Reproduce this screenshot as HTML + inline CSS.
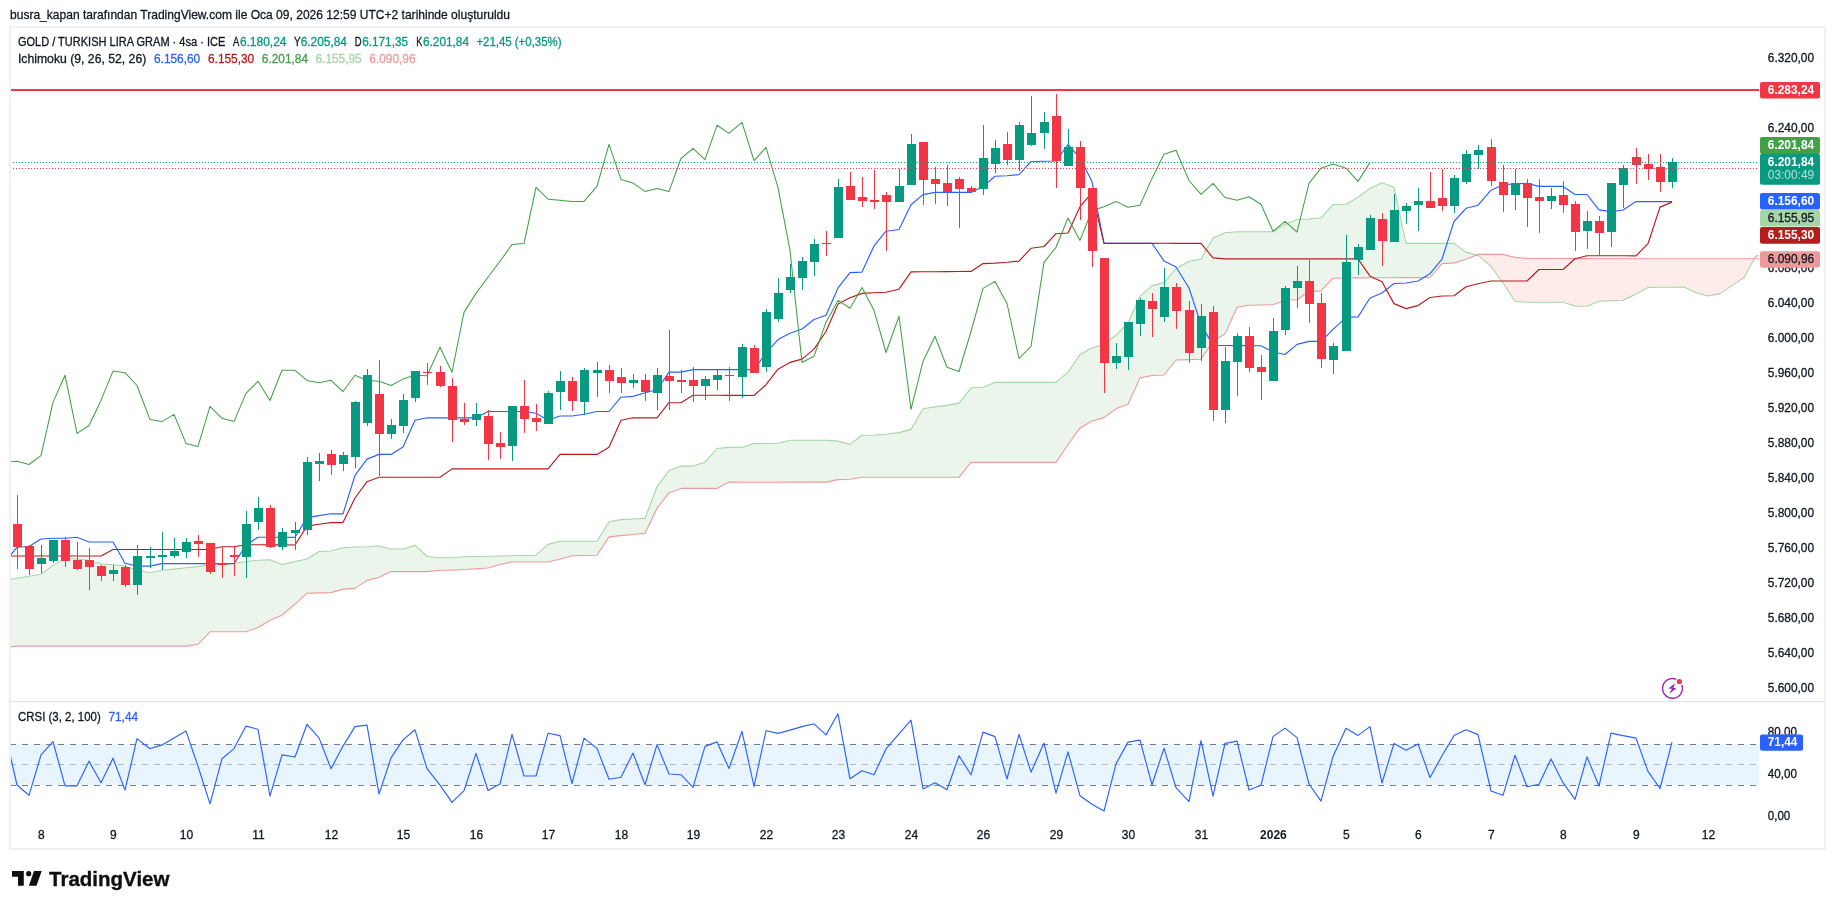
<!DOCTYPE html><html><head><meta charset="utf-8"><title>chart</title><style>html,body{margin:0;padding:0;background:#fff;width:1835px;height:909px;overflow:hidden;font-family:"Liberation Sans",sans-serif}</style></head><body>
<svg width="1835" height="909" viewBox="0 0 1835 909" style="position:absolute;left:0;top:0;will-change:transform" font-family="Liberation Sans, sans-serif">
<defs><clipPath id="c1"><rect x="11" y="28" width="1748" height="673"/></clipPath><clipPath id="c2"><rect x="11" y="702" width="1748" height="123"/></clipPath></defs>
<rect x="0" y="0" width="1835" height="909" fill="#fff"/>
<rect x="10" y="27" width="1815" height="822" fill="none" stroke="#f0f0f2" stroke-width="2"/>
<rect x="10" y="701" width="1815" height="1" fill="#e0e3eb"/>
<g clip-path="url(#c1)" shape-rendering="auto">
<polygon points="5.00,580.30 17.00,578.20 29.00,576.20 41.00,574.20 53.00,565.40 65.00,558.29 77.00,559.04 89.00,560.29 101.00,564.06 113.00,564.81 125.00,566.06 137.00,570.33 150.00,572.83 162.00,570.33 174.00,569.07 186.00,567.82 198.00,566.56 210.00,564.81 222.00,564.81 234.00,563.30 246.00,561.55 258.00,560.29 270.00,559.79 282.00,564.56 295.00,561.55 307.00,559.04 319.00,551.51 331.00,551.01 343.00,547.75 355.00,547.00 367.00,546.75 379.00,546.00 391.00,549.01 403.00,549.01 415.00,545.24 427.00,556.53 440.00,557.79 452.00,557.79 464.00,556.70 476.00,556.45 488.00,556.20 500.00,555.95 512.00,555.70 524.00,555.45 536.00,555.20 548.00,544.41 560.00,541.15 572.00,541.15 584.00,541.15 597.00,541.15 609.00,521.84 621.00,519.58 633.00,518.99 645.00,518.39 657.00,486.66 669.00,470.61 681.00,466.09 693.00,466.09 705.00,462.33 717.00,448.54 729.00,447.41 742.00,447.33 754.00,443.56 766.00,443.46 778.00,443.31 790.00,440.17 802.00,440.17 814.00,440.17 826.00,440.17 838.00,441.05 850.00,444.44 862.00,435.16 874.00,435.03 886.00,434.15 899.00,432.65 911.00,429.39 923.00,408.82 935.00,406.94 947.00,405.44 959.00,403.05 971.00,387.75 983.00,387.25 995.00,382.36 1007.00,382.36 1019.00,382.36 1031.00,382.36 1044.00,382.36 1056.00,382.36 1068.00,372.18 1080.00,354.62 1092.00,347.85 1104.00,344.09 1116.00,335.31 1128.00,322.77 1140.00,296.43 1152.00,285.58 1164.00,282.57 1176.00,268.65 1189.00,261.18 1201.00,259.17 1213.00,237.85 1225.00,232.83 1237.00,231.83 1249.00,231.83 1261.00,231.83 1273.00,231.83 1285.00,224.56 1297.00,219.54 1309.00,219.04 1321.00,217.79 1333.00,204.74 1346.00,204.24 1358.00,197.22 1370.00,188.44 1382.00,182.67 1394.00,187.19 1406.00,243.37 1418.00,243.37 1430.00,243.37 1442.00,243.37 1454.00,243.37 1466.00,252.15 1476.50,255.00 1476.50,255.00 1466.00,259.17 1454.00,262.93 1442.00,263.68 1430.00,277.48 1418.00,277.55 1406.00,277.62 1394.00,277.69 1382.00,277.77 1370.00,277.84 1358.00,277.91 1346.00,277.98 1333.00,278.19 1321.00,290.95 1309.00,291.45 1297.00,299.73 1285.00,300.23 1273.00,304.74 1261.00,304.99 1249.00,305.24 1237.00,307.25 1225.00,334.09 1213.00,341.11 1201.00,359.17 1189.00,359.60 1176.00,360.03 1164.00,374.95 1152.00,375.46 1140.00,377.95 1128.00,404.28 1116.00,408.80 1104.00,417.58 1092.00,420.99 1080.00,427.88 1068.00,444.81 1056.00,462.37 1044.00,462.37 1031.00,462.37 1019.00,462.37 1007.00,462.37 995.00,462.37 983.00,462.37 971.00,462.37 959.00,477.32 947.00,477.32 935.00,477.32 923.00,477.32 911.00,477.32 899.00,477.32 886.00,477.32 874.00,477.32 862.00,477.32 850.00,479.32 838.00,479.57 826.00,482.08 814.00,482.10 802.00,482.12 790.00,482.14 778.00,482.16 766.00,482.17 754.00,482.19 742.00,482.21 729.00,482.15 717.00,488.42 705.00,488.42 693.00,488.42 681.00,488.42 669.00,492.93 657.00,508.23 645.00,533.31 633.00,534.47 621.00,535.64 609.00,536.89 597.00,555.20 584.00,555.45 572.00,555.70 560.00,558.96 548.00,561.97 536.00,561.97 524.00,561.97 512.00,561.97 500.00,564.48 488.00,567.99 476.00,568.77 464.00,569.55 452.00,570.33 440.00,570.33 427.00,571.58 415.00,571.58 403.00,571.58 391.00,571.58 379.00,577.35 367.00,580.36 355.00,588.38 343.00,589.14 331.00,592.65 319.00,592.90 307.00,593.15 295.00,604.19 282.00,614.97 270.00,620.49 258.00,627.51 246.00,631.78 234.00,631.78 222.00,631.78 210.00,631.78 198.00,644.32 186.00,646.07 174.00,646.07 162.00,646.07 150.00,646.07 137.00,646.07 125.00,646.07 113.00,646.07 101.00,646.07 89.00,646.07 77.00,646.07 65.00,646.07 53.00,646.07 41.00,646.07 29.00,646.07 17.00,646.07 5.00,647.58" fill="rgba(67,160,71,0.10)"/>
<polygon points="1476.50,255.00 1478.00,255.41 1491.00,266.19 1503.00,283.00 1515.00,301.31 1527.00,302.31 1539.00,302.31 1551.00,302.31 1563.00,302.31 1575.00,306.07 1587.00,306.32 1599.00,301.31 1611.00,300.75 1623.00,300.20 1636.00,293.85 1648.00,287.50 1660.00,287.33 1672.00,287.17 1684.00,287.00 1696.00,292.80 1708.00,296.00 1720.00,293.60 1732.00,285.55 1744.00,277.50 1754.41,258.67 1754.41,258.67 1744.00,258.67 1732.00,258.67 1720.00,258.67 1708.00,258.67 1696.00,258.67 1684.00,258.67 1672.00,258.67 1660.00,258.67 1648.00,258.67 1636.00,258.67 1623.00,258.67 1611.00,258.67 1599.00,258.67 1587.00,258.63 1575.00,258.58 1563.00,258.54 1551.00,258.50 1539.00,258.46 1527.00,258.42 1515.00,257.41 1503.00,254.40 1491.00,254.40 1478.00,254.40 1476.50,255.00" fill="rgba(244,67,54,0.10)"/>
<polygon points="1754.41,258.67 1756.00,255.80 1768.00,255.80 1768.00,258.67 1756.00,258.67 1754.41,258.67" fill="rgba(67,160,71,0.10)"/>
<polyline points="5.0,580.3 17.0,578.2 29.0,576.2 41.0,574.2 53.0,565.4 65.0,558.3 77.0,559.0 89.0,560.3 101.0,564.1 113.0,564.8 125.0,566.1 137.0,570.3 150.0,572.8 162.0,570.3 174.0,569.1 186.0,567.8 198.0,566.6 210.0,564.8 222.0,564.8 234.0,563.3 246.0,561.5 258.0,560.3 270.0,559.8 282.0,564.6 295.0,561.5 307.0,559.0 319.0,551.5 331.0,551.0 343.0,547.8 355.0,547.0 367.0,546.7 379.0,546.0 391.0,549.0 403.0,549.0 415.0,545.2 427.0,556.5 440.0,557.8 452.0,557.8 464.0,556.7 476.0,556.5 488.0,556.2 500.0,556.0 512.0,555.7 524.0,555.5 536.0,555.2 548.0,544.4 560.0,541.2 572.0,541.2 584.0,541.2 597.0,541.2 609.0,521.8 621.0,519.6 633.0,519.0 645.0,518.4 657.0,486.7 669.0,470.6 681.0,466.1 693.0,466.1 705.0,462.3 717.0,448.5 729.0,447.4 742.0,447.3 754.0,443.6 766.0,443.5 778.0,443.3 790.0,440.2 802.0,440.2 814.0,440.2 826.0,440.2 838.0,441.1 850.0,444.4 862.0,435.2 874.0,435.0 886.0,434.2 899.0,432.6 911.0,429.4 923.0,408.8 935.0,406.9 947.0,405.4 959.0,403.1 971.0,387.8 983.0,387.3 995.0,382.4 1007.0,382.4 1019.0,382.4 1031.0,382.4 1044.0,382.4 1056.0,382.4 1068.0,372.2 1080.0,354.6 1092.0,347.9 1104.0,344.1 1116.0,335.3 1128.0,322.8 1140.0,296.4 1152.0,285.6 1164.0,282.6 1176.0,268.6 1189.0,261.2 1201.0,259.2 1213.0,237.9 1225.0,232.8 1237.0,231.8 1249.0,231.8 1261.0,231.8 1273.0,231.8 1285.0,224.6 1297.0,219.5 1309.0,219.0 1321.0,217.8 1333.0,204.7 1346.0,204.2 1358.0,197.2 1370.0,188.4 1382.0,182.7 1394.0,187.2 1406.0,243.4 1418.0,243.4 1430.0,243.4 1442.0,243.4 1454.0,243.4 1466.0,252.1 1478.0,255.4 1491.0,266.2 1503.0,283.0 1515.0,301.3 1527.0,302.3 1539.0,302.3 1551.0,302.3 1563.0,302.3 1575.0,306.1 1587.0,306.3 1599.0,301.3 1611.0,300.8 1623.0,300.2 1636.0,293.9 1648.0,287.5 1660.0,287.3 1672.0,287.2 1684.0,287.0 1696.0,292.8 1708.0,296.0 1720.0,293.6 1732.0,285.6 1744.0,277.5 1756.0,255.8 1768.0,255.8" fill="none" stroke="#a5d6a7" stroke-width="1.1" stroke-linejoin="round" stroke-opacity="1"/>
<polyline points="5.0,647.6 17.0,646.1 29.0,646.1 41.0,646.1 53.0,646.1 65.0,646.1 77.0,646.1 89.0,646.1 101.0,646.1 113.0,646.1 125.0,646.1 137.0,646.1 150.0,646.1 162.0,646.1 174.0,646.1 186.0,646.1 198.0,644.3 210.0,631.8 222.0,631.8 234.0,631.8 246.0,631.8 258.0,627.5 270.0,620.5 282.0,615.0 295.0,604.2 307.0,593.2 319.0,592.9 331.0,592.6 343.0,589.1 355.0,588.4 367.0,580.4 379.0,577.3 391.0,571.6 403.0,571.6 415.0,571.6 427.0,571.6 440.0,570.3 452.0,570.3 464.0,569.5 476.0,568.8 488.0,568.0 500.0,564.5 512.0,562.0 524.0,562.0 536.0,562.0 548.0,562.0 560.0,559.0 572.0,555.7 584.0,555.5 597.0,555.2 609.0,536.9 621.0,535.6 633.0,534.5 645.0,533.3 657.0,508.2 669.0,492.9 681.0,488.4 693.0,488.4 705.0,488.4 717.0,488.4 729.0,482.1 742.0,482.2 754.0,482.2 766.0,482.2 778.0,482.2 790.0,482.1 802.0,482.1 814.0,482.1 826.0,482.1 838.0,479.6 850.0,479.3 862.0,477.3 874.0,477.3 886.0,477.3 899.0,477.3 911.0,477.3 923.0,477.3 935.0,477.3 947.0,477.3 959.0,477.3 971.0,462.4 983.0,462.4 995.0,462.4 1007.0,462.4 1019.0,462.4 1031.0,462.4 1044.0,462.4 1056.0,462.4 1068.0,444.8 1080.0,427.9 1092.0,421.0 1104.0,417.6 1116.0,408.8 1128.0,404.3 1140.0,377.9 1152.0,375.5 1164.0,375.0 1176.0,360.0 1189.0,359.6 1201.0,359.2 1213.0,341.1 1225.0,334.1 1237.0,307.3 1249.0,305.2 1261.0,305.0 1273.0,304.7 1285.0,300.2 1297.0,299.7 1309.0,291.4 1321.0,290.9 1333.0,278.2 1346.0,278.0 1358.0,277.9 1370.0,277.8 1382.0,277.8 1394.0,277.7 1406.0,277.6 1418.0,277.6 1430.0,277.5 1442.0,263.7 1454.0,262.9 1466.0,259.2 1478.0,254.4 1491.0,254.4 1503.0,254.4 1515.0,257.4 1527.0,258.4 1539.0,258.5 1551.0,258.5 1563.0,258.5 1575.0,258.6 1587.0,258.6 1599.0,258.7 1611.0,258.7 1623.0,258.7 1636.0,258.7 1648.0,258.7 1660.0,258.7 1672.0,258.7 1684.0,258.7 1696.0,258.7 1708.0,258.7 1720.0,258.7 1732.0,258.7 1744.0,258.7 1756.0,258.7 1768.0,258.7" fill="none" stroke="#ef9a9a" stroke-width="1.1" stroke-linejoin="round" stroke-opacity="1"/>
<rect x="10" y="89" width="1750" height="2" fill="#f23645"/>
<polyline points="5.0,561.7 17.0,547.3 29.0,546.5 41.0,539.0 53.0,538.2 65.0,538.2 77.0,537.2 89.0,542.0 101.0,542.0 113.0,542.0 125.0,563.3 137.0,566.1 150.0,566.1 162.0,563.6 174.0,563.6 186.0,563.6 198.0,563.6 210.0,563.6 222.0,563.6 234.0,563.6 246.0,545.2 258.0,537.2 270.0,537.2 282.0,537.2 295.0,537.3 307.0,517.6 319.0,515.6 331.0,513.8 343.0,513.8 355.0,475.4 367.0,459.1 379.0,454.4 391.0,454.4 403.0,447.1 415.0,420.3 427.0,417.8 440.0,417.8 452.0,417.8 464.0,417.8 476.0,417.8 488.0,411.5 500.0,411.5 512.0,411.5 524.0,411.5 536.0,413.2 548.0,420.3 560.0,416.0 572.0,416.0 584.0,414.2 597.0,411.5 609.0,411.5 621.0,397.2 633.0,396.4 645.0,392.7 657.0,389.7 669.0,372.1 681.0,372.1 693.0,369.6 705.0,369.6 717.0,369.6 729.0,369.6 742.0,369.6 754.0,369.7 766.0,352.9 778.0,339.6 790.0,333.3 802.0,329.0 814.0,319.5 826.0,315.2 838.0,287.9 850.0,272.6 862.0,272.1 874.0,245.9 886.0,231.2 899.0,229.5 911.0,204.7 923.0,194.6 935.0,192.4 947.0,192.4 959.0,192.4 971.0,192.4 983.0,186.6 995.0,176.3 1007.0,175.8 1019.0,174.6 1031.0,161.5 1044.0,161.3 1056.0,161.0 1068.0,144.7 1080.0,157.8 1092.0,181.6 1104.0,243.3 1116.0,243.3 1128.0,243.3 1140.0,243.3 1152.0,243.4 1164.0,260.9 1176.0,267.0 1189.0,288.0 1201.0,324.4 1213.0,345.4 1225.0,345.5 1237.0,345.6 1249.0,345.6 1261.0,345.7 1273.0,352.0 1285.0,354.5 1297.0,344.4 1309.0,341.4 1321.0,341.4 1333.0,329.4 1346.0,317.4 1358.0,316.9 1370.0,298.0 1382.0,293.0 1394.0,283.5 1406.0,283.0 1418.0,281.0 1430.0,273.7 1442.0,259.2 1454.0,221.5 1466.0,208.3 1478.0,205.2 1491.0,190.2 1503.0,184.7 1515.0,183.9 1527.0,183.4 1539.0,186.4 1551.0,186.4 1563.0,186.4 1575.0,194.5 1587.0,194.5 1599.0,209.9 1611.0,211.6 1623.0,210.0 1636.0,201.6 1648.0,201.6 1660.0,201.6 1672.0,201.6" fill="none" stroke="#2962ff" stroke-width="1.15" stroke-linejoin="round" stroke-opacity="1"/>
<polyline points="5.0,556.0 17.0,556.0 29.0,556.0 41.0,556.0 53.0,556.0 65.0,556.0 77.0,556.0 89.0,556.0 101.0,556.0 113.0,549.5 125.0,549.5 137.0,549.5 150.0,549.5 162.0,549.5 174.0,549.5 186.0,549.5 198.0,549.5 210.0,549.5 222.0,546.7 234.0,546.7 246.0,544.7 258.0,544.8 270.0,544.8 282.0,544.9 295.0,545.0 307.0,526.1 319.0,524.3 331.0,522.6 343.0,522.6 355.0,498.0 367.0,481.7 379.0,477.2 391.0,477.2 403.0,477.2 415.0,477.2 427.0,477.2 440.0,477.2 452.0,468.9 464.0,468.9 476.0,468.9 488.0,468.9 500.0,468.9 512.0,468.9 524.0,468.9 536.0,468.9 548.0,468.9 560.0,454.4 572.0,454.4 584.0,454.4 597.0,454.4 609.0,447.3 621.0,420.3 633.0,417.8 645.0,417.8 657.0,417.8 669.0,402.7 681.0,402.7 693.0,395.2 705.0,395.2 717.0,395.3 729.0,395.3 742.0,395.3 754.0,395.5 766.0,384.7 778.0,369.2 790.0,362.4 802.0,359.1 814.0,349.1 826.0,331.5 838.0,304.0 850.0,297.7 862.0,293.4 874.0,292.7 886.0,292.2 899.0,289.2 911.0,271.9 923.0,271.8 935.0,271.7 947.0,271.6 959.0,271.5 971.0,271.4 983.0,263.6 995.0,263.1 1007.0,262.3 1019.0,261.1 1031.0,248.3 1044.0,246.5 1056.0,233.7 1068.0,233.0 1080.0,206.7 1092.0,192.9 1104.0,243.3 1116.0,243.3 1128.0,243.3 1140.0,243.3 1152.0,243.4 1164.0,243.3 1176.0,243.3 1189.0,243.3 1201.0,243.4 1213.0,257.9 1225.0,258.9 1237.0,258.9 1249.0,258.9 1261.0,258.9 1273.0,258.9 1285.0,258.9 1297.0,258.9 1309.0,258.9 1321.0,258.9 1333.0,258.9 1346.0,258.9 1358.0,258.9 1370.0,276.2 1382.0,281.7 1394.0,303.6 1406.0,308.6 1418.0,305.6 1430.0,297.5 1442.0,296.0 1454.0,295.8 1466.0,286.8 1478.0,283.7 1491.0,281.0 1503.0,281.0 1515.0,281.0 1527.0,281.0 1539.0,269.5 1551.0,269.5 1563.0,269.5 1575.0,258.7 1587.0,255.8 1599.0,255.7 1611.0,255.7 1623.0,255.8 1636.0,255.9 1648.0,243.7 1660.0,207.1 1672.0,202.1" fill="none" stroke="#b71c1c" stroke-width="1.15" stroke-linejoin="round" stroke-opacity="1"/>
<polyline points="5.0,462.3 17.0,461.3 29.0,464.5 41.0,455.6 53.0,402.4 65.0,375.3 77.0,433.4 89.0,425.5 101.0,400.4 113.0,371.1 125.0,372.7 137.0,385.5 150.0,419.6 162.0,421.6 174.0,414.4 186.0,443.4 198.0,446.4 210.0,406.4 222.0,418.3 234.0,421.6 246.0,393.4 258.0,381.3 270.0,400.5 282.0,370.3 295.0,370.3 307.0,380.4 319.0,382.7 331.0,380.3 343.0,391.5 355.0,375.3 367.0,380.4 379.0,381.2 391.0,385.5 403.0,379.1 415.0,375.3 427.0,375.7 440.0,347.2 452.0,372.2 464.0,312.4 476.0,293.4 488.0,277.3 500.0,261.3 512.0,244.5 524.0,243.6 536.0,187.3 548.0,199.2 560.0,200.2 572.0,201.4 584.0,201.4 597.0,186.3 609.0,144.4 621.0,179.4 633.0,183.1 645.0,191.4 657.0,188.4 669.0,191.4 681.0,158.5 693.0,148.4 705.0,159.6 717.0,125.3 729.0,133.4 742.0,122.3 754.0,160.6 766.0,147.4 778.0,187.7 790.0,250.4 802.0,362.5 814.0,356.3 826.0,322.2 838.0,300.4 850.0,308.3 862.0,287.4 874.0,310.3 886.0,352.5 899.0,316.2 911.0,409.4 923.0,361.4 935.0,336.3 947.0,367.2 959.0,371.5 971.0,331.5 983.0,288.4 995.0,281.4 1007.0,303.5 1019.0,358.5 1031.0,346.3 1044.0,262.3 1056.0,247.3 1068.0,218.0 1080.0,240.4 1092.0,210.5 1104.0,206.7 1116.0,201.4 1128.0,207.3 1140.0,205.3 1152.0,178.4 1164.0,154.3 1176.0,150.3 1189.0,180.5 1201.0,194.3 1213.0,183.4 1225.0,197.5 1237.0,200.3 1249.0,196.7 1261.0,204.3 1273.0,231.4 1285.0,221.3 1297.0,232.2 1309.0,183.3 1321.0,168.2 1333.0,164.1 1346.0,168.2 1358.0,181.4 1370.0,162.4" fill="none" stroke="#43a047" stroke-width="1.05" stroke-linejoin="round" stroke-opacity="1"/>
<g shape-rendering="crispEdges">
<rect x="17" y="495" width="1" height="74" fill="#f23645"/>
<rect x="13" y="524" width="9" height="23" fill="#f23645"/>
<rect x="29" y="545" width="1" height="30" fill="#f23645"/>
<rect x="25" y="546" width="9" height="23" fill="#f23645"/>
<rect x="41" y="545" width="1" height="28" fill="#089981"/>
<rect x="37" y="558" width="9" height="6" fill="#089981"/>
<rect x="53" y="540" width="1" height="23" fill="#089981"/>
<rect x="49" y="540" width="9" height="21" fill="#089981"/>
<rect x="65" y="537" width="1" height="30" fill="#f23645"/>
<rect x="61" y="540" width="9" height="21" fill="#f23645"/>
<rect x="77" y="542" width="1" height="28" fill="#f23645"/>
<rect x="73" y="560" width="9" height="9" fill="#f23645"/>
<rect x="89" y="548" width="1" height="42" fill="#f23645"/>
<rect x="85" y="560" width="9" height="7" fill="#f23645"/>
<rect x="101" y="565" width="1" height="16" fill="#f23645"/>
<rect x="97" y="566" width="9" height="10" fill="#f23645"/>
<rect x="113" y="565" width="1" height="16" fill="#089981"/>
<rect x="109" y="570" width="9" height="4" fill="#089981"/>
<rect x="125" y="565" width="1" height="22" fill="#f23645"/>
<rect x="121" y="567" width="9" height="18" fill="#f23645"/>
<rect x="137" y="545" width="1" height="50" fill="#089981"/>
<rect x="133" y="556" width="9" height="29" fill="#089981"/>
<rect x="150" y="547" width="1" height="21" fill="#089981"/>
<rect x="146" y="556" width="9" height="2" fill="#089981"/>
<rect x="162" y="532" width="1" height="38" fill="#089981"/>
<rect x="158" y="555" width="9" height="2" fill="#089981"/>
<rect x="174" y="538" width="1" height="20" fill="#089981"/>
<rect x="170" y="551" width="9" height="5" fill="#089981"/>
<rect x="186" y="538" width="1" height="20" fill="#089981"/>
<rect x="182" y="542" width="9" height="10" fill="#089981"/>
<rect x="198" y="535" width="1" height="22" fill="#f23645"/>
<rect x="194" y="541" width="9" height="3" fill="#f23645"/>
<rect x="210" y="543" width="1" height="31" fill="#f23645"/>
<rect x="206" y="543" width="9" height="29" fill="#f23645"/>
<rect x="222" y="547" width="1" height="31" fill="#f23645"/>
<rect x="218" y="563" width="9" height="2" fill="#f23645"/>
<rect x="234" y="547" width="1" height="29" fill="#f23645"/>
<rect x="230" y="555" width="9" height="2" fill="#f23645"/>
<rect x="246" y="511" width="1" height="67" fill="#089981"/>
<rect x="242" y="524" width="9" height="33" fill="#089981"/>
<rect x="258" y="497" width="1" height="33" fill="#089981"/>
<rect x="254" y="508" width="9" height="14" fill="#089981"/>
<rect x="270" y="505" width="1" height="43" fill="#f23645"/>
<rect x="266" y="508" width="9" height="39" fill="#f23645"/>
<rect x="282" y="528" width="1" height="22" fill="#089981"/>
<rect x="278" y="532" width="9" height="15" fill="#089981"/>
<rect x="295" y="522" width="1" height="28" fill="#089981"/>
<rect x="291" y="530" width="9" height="3" fill="#089981"/>
<rect x="307" y="457" width="1" height="78" fill="#089981"/>
<rect x="303" y="462" width="9" height="68" fill="#089981"/>
<rect x="319" y="453" width="1" height="28" fill="#089981"/>
<rect x="315" y="461" width="9" height="3" fill="#089981"/>
<rect x="331" y="450" width="1" height="25" fill="#f23645"/>
<rect x="327" y="454" width="9" height="11" fill="#f23645"/>
<rect x="343" y="452" width="1" height="19" fill="#089981"/>
<rect x="339" y="455" width="9" height="9" fill="#089981"/>
<rect x="355" y="401" width="1" height="67" fill="#089981"/>
<rect x="351" y="402" width="9" height="55" fill="#089981"/>
<rect x="367" y="369" width="1" height="57" fill="#089981"/>
<rect x="363" y="375" width="9" height="48" fill="#089981"/>
<rect x="379" y="360" width="1" height="116" fill="#f23645"/>
<rect x="375" y="394" width="9" height="40" fill="#f23645"/>
<rect x="391" y="419" width="1" height="20" fill="#089981"/>
<rect x="387" y="425" width="9" height="9" fill="#089981"/>
<rect x="403" y="394" width="1" height="39" fill="#089981"/>
<rect x="399" y="400" width="9" height="26" fill="#089981"/>
<rect x="415" y="371" width="1" height="31" fill="#089981"/>
<rect x="411" y="371" width="9" height="27" fill="#089981"/>
<rect x="427" y="363" width="1" height="22" fill="#f23645"/>
<rect x="423" y="372" width="9" height="1" fill="#f23645"/>
<rect x="440" y="366" width="1" height="21" fill="#f23645"/>
<rect x="436" y="372" width="9" height="14" fill="#f23645"/>
<rect x="452" y="378" width="1" height="64" fill="#f23645"/>
<rect x="448" y="386" width="9" height="34" fill="#f23645"/>
<rect x="464" y="403" width="1" height="22" fill="#f23645"/>
<rect x="460" y="419" width="9" height="3" fill="#f23645"/>
<rect x="476" y="403" width="1" height="23" fill="#089981"/>
<rect x="472" y="414" width="9" height="6" fill="#089981"/>
<rect x="488" y="410" width="1" height="50" fill="#f23645"/>
<rect x="484" y="416" width="9" height="28" fill="#f23645"/>
<rect x="500" y="432" width="1" height="27" fill="#f23645"/>
<rect x="496" y="443" width="9" height="4" fill="#f23645"/>
<rect x="512" y="406" width="1" height="55" fill="#089981"/>
<rect x="508" y="406" width="9" height="40" fill="#089981"/>
<rect x="524" y="380" width="1" height="53" fill="#f23645"/>
<rect x="520" y="406" width="9" height="13" fill="#f23645"/>
<rect x="536" y="404" width="1" height="27" fill="#f23645"/>
<rect x="532" y="418" width="9" height="4" fill="#f23645"/>
<rect x="548" y="391" width="1" height="33" fill="#089981"/>
<rect x="544" y="393" width="9" height="31" fill="#089981"/>
<rect x="560" y="371" width="1" height="39" fill="#089981"/>
<rect x="556" y="381" width="9" height="11" fill="#089981"/>
<rect x="572" y="377" width="1" height="34" fill="#f23645"/>
<rect x="568" y="381" width="9" height="20" fill="#f23645"/>
<rect x="584" y="368" width="1" height="47" fill="#089981"/>
<rect x="580" y="370" width="9" height="32" fill="#089981"/>
<rect x="597" y="362" width="1" height="35" fill="#089981"/>
<rect x="593" y="370" width="9" height="3" fill="#089981"/>
<rect x="609" y="365" width="1" height="28" fill="#f23645"/>
<rect x="605" y="370" width="9" height="11" fill="#f23645"/>
<rect x="621" y="368" width="1" height="25" fill="#f23645"/>
<rect x="617" y="377" width="9" height="6" fill="#f23645"/>
<rect x="633" y="374" width="1" height="14" fill="#089981"/>
<rect x="629" y="380" width="9" height="3" fill="#089981"/>
<rect x="645" y="374" width="1" height="27" fill="#f23645"/>
<rect x="641" y="380" width="9" height="12" fill="#f23645"/>
<rect x="657" y="368" width="1" height="42" fill="#089981"/>
<rect x="653" y="375" width="9" height="18" fill="#089981"/>
<rect x="669" y="330" width="1" height="80" fill="#f23645"/>
<rect x="665" y="376" width="9" height="5" fill="#f23645"/>
<rect x="681" y="370" width="1" height="23" fill="#f23645"/>
<rect x="677" y="380" width="9" height="2" fill="#f23645"/>
<rect x="693" y="367" width="1" height="35" fill="#f23645"/>
<rect x="689" y="380" width="9" height="6" fill="#f23645"/>
<rect x="705" y="376" width="1" height="24" fill="#089981"/>
<rect x="701" y="379" width="9" height="7" fill="#089981"/>
<rect x="717" y="370" width="1" height="20" fill="#089981"/>
<rect x="713" y="375" width="9" height="5" fill="#089981"/>
<rect x="729" y="367" width="1" height="34" fill="#f23645"/>
<rect x="725" y="375" width="9" height="1" fill="#f23645"/>
<rect x="742" y="344" width="1" height="54" fill="#089981"/>
<rect x="738" y="347" width="9" height="30" fill="#089981"/>
<rect x="754" y="345" width="1" height="28" fill="#f23645"/>
<rect x="750" y="348" width="9" height="25" fill="#f23645"/>
<rect x="766" y="309" width="1" height="63" fill="#089981"/>
<rect x="762" y="312" width="9" height="55" fill="#089981"/>
<rect x="778" y="278" width="1" height="44" fill="#089981"/>
<rect x="774" y="293" width="9" height="26" fill="#089981"/>
<rect x="790" y="264" width="1" height="29" fill="#089981"/>
<rect x="786" y="277" width="9" height="13" fill="#089981"/>
<rect x="802" y="257" width="1" height="33" fill="#089981"/>
<rect x="798" y="261" width="9" height="17" fill="#089981"/>
<rect x="814" y="239" width="1" height="37" fill="#089981"/>
<rect x="810" y="244" width="9" height="18" fill="#089981"/>
<rect x="826" y="231" width="1" height="25" fill="#f23645"/>
<rect x="822" y="243" width="9" height="1" fill="#f23645"/>
<rect x="838" y="179" width="1" height="59" fill="#089981"/>
<rect x="834" y="187" width="9" height="51" fill="#089981"/>
<rect x="850" y="172" width="1" height="28" fill="#f23645"/>
<rect x="846" y="186" width="9" height="14" fill="#f23645"/>
<rect x="862" y="177" width="1" height="30" fill="#f23645"/>
<rect x="858" y="197" width="9" height="4" fill="#f23645"/>
<rect x="874" y="170" width="1" height="39" fill="#f23645"/>
<rect x="870" y="200" width="9" height="2" fill="#f23645"/>
<rect x="886" y="192" width="1" height="59" fill="#f23645"/>
<rect x="882" y="195" width="9" height="7" fill="#f23645"/>
<rect x="899" y="169" width="1" height="33" fill="#089981"/>
<rect x="895" y="186" width="9" height="16" fill="#089981"/>
<rect x="911" y="134" width="1" height="51" fill="#089981"/>
<rect x="907" y="144" width="9" height="41" fill="#089981"/>
<rect x="923" y="142" width="1" height="63" fill="#f23645"/>
<rect x="919" y="142" width="9" height="38" fill="#f23645"/>
<rect x="935" y="167" width="1" height="37" fill="#f23645"/>
<rect x="931" y="179" width="9" height="5" fill="#f23645"/>
<rect x="947" y="165" width="1" height="41" fill="#f23645"/>
<rect x="943" y="183" width="9" height="9" fill="#f23645"/>
<rect x="959" y="177" width="1" height="51" fill="#f23645"/>
<rect x="955" y="179" width="9" height="10" fill="#f23645"/>
<rect x="971" y="186" width="1" height="7" fill="#f23645"/>
<rect x="967" y="188" width="9" height="4" fill="#f23645"/>
<rect x="983" y="125" width="1" height="70" fill="#089981"/>
<rect x="979" y="158" width="9" height="31" fill="#089981"/>
<rect x="995" y="140" width="1" height="33" fill="#089981"/>
<rect x="991" y="148" width="9" height="16" fill="#089981"/>
<rect x="1007" y="132" width="1" height="33" fill="#f23645"/>
<rect x="1003" y="144" width="9" height="16" fill="#f23645"/>
<rect x="1019" y="122" width="1" height="49" fill="#089981"/>
<rect x="1015" y="125" width="9" height="35" fill="#089981"/>
<rect x="1031" y="96" width="1" height="50" fill="#089981"/>
<rect x="1027" y="133" width="9" height="12" fill="#089981"/>
<rect x="1044" y="112" width="1" height="37" fill="#089981"/>
<rect x="1040" y="122" width="9" height="11" fill="#089981"/>
<rect x="1056" y="94" width="1" height="94" fill="#f23645"/>
<rect x="1052" y="116" width="9" height="45" fill="#f23645"/>
<rect x="1068" y="129" width="1" height="37" fill="#089981"/>
<rect x="1064" y="147" width="9" height="19" fill="#089981"/>
<rect x="1080" y="141" width="1" height="79" fill="#f23645"/>
<rect x="1076" y="147" width="9" height="41" fill="#f23645"/>
<rect x="1092" y="188" width="1" height="79" fill="#f23645"/>
<rect x="1088" y="188" width="9" height="63" fill="#f23645"/>
<rect x="1104" y="258" width="1" height="135" fill="#f23645"/>
<rect x="1100" y="258" width="9" height="105" fill="#f23645"/>
<rect x="1116" y="343" width="1" height="26" fill="#089981"/>
<rect x="1112" y="356" width="9" height="7" fill="#089981"/>
<rect x="1128" y="322" width="1" height="48" fill="#089981"/>
<rect x="1124" y="322" width="9" height="35" fill="#089981"/>
<rect x="1140" y="298" width="1" height="38" fill="#089981"/>
<rect x="1136" y="300" width="9" height="24" fill="#089981"/>
<rect x="1152" y="293" width="1" height="44" fill="#f23645"/>
<rect x="1148" y="301" width="9" height="8" fill="#f23645"/>
<rect x="1164" y="268" width="1" height="54" fill="#089981"/>
<rect x="1160" y="287" width="9" height="30" fill="#089981"/>
<rect x="1176" y="283" width="1" height="46" fill="#f23645"/>
<rect x="1172" y="287" width="9" height="24" fill="#f23645"/>
<rect x="1189" y="301" width="1" height="62" fill="#f23645"/>
<rect x="1185" y="310" width="9" height="43" fill="#f23645"/>
<rect x="1201" y="304" width="1" height="57" fill="#089981"/>
<rect x="1197" y="316" width="9" height="32" fill="#089981"/>
<rect x="1213" y="306" width="1" height="115" fill="#f23645"/>
<rect x="1209" y="312" width="9" height="98" fill="#f23645"/>
<rect x="1225" y="347" width="1" height="76" fill="#089981"/>
<rect x="1221" y="361" width="9" height="49" fill="#089981"/>
<rect x="1237" y="333" width="1" height="63" fill="#089981"/>
<rect x="1233" y="336" width="9" height="26" fill="#089981"/>
<rect x="1249" y="327" width="1" height="45" fill="#f23645"/>
<rect x="1245" y="336" width="9" height="32" fill="#f23645"/>
<rect x="1261" y="355" width="1" height="45" fill="#f23645"/>
<rect x="1257" y="367" width="9" height="5" fill="#f23645"/>
<rect x="1273" y="318" width="1" height="63" fill="#089981"/>
<rect x="1269" y="331" width="9" height="50" fill="#089981"/>
<rect x="1285" y="286" width="1" height="49" fill="#089981"/>
<rect x="1281" y="288" width="9" height="42" fill="#089981"/>
<rect x="1297" y="266" width="1" height="42" fill="#089981"/>
<rect x="1293" y="281" width="9" height="7" fill="#089981"/>
<rect x="1309" y="260" width="1" height="63" fill="#f23645"/>
<rect x="1305" y="281" width="9" height="23" fill="#f23645"/>
<rect x="1321" y="293" width="1" height="75" fill="#f23645"/>
<rect x="1317" y="303" width="9" height="56" fill="#f23645"/>
<rect x="1333" y="343" width="1" height="31" fill="#089981"/>
<rect x="1329" y="346" width="9" height="14" fill="#089981"/>
<rect x="1346" y="235" width="1" height="116" fill="#089981"/>
<rect x="1342" y="262" width="9" height="89" fill="#089981"/>
<rect x="1358" y="244" width="1" height="31" fill="#089981"/>
<rect x="1354" y="247" width="9" height="13" fill="#089981"/>
<rect x="1370" y="215" width="1" height="35" fill="#089981"/>
<rect x="1366" y="218" width="9" height="32" fill="#089981"/>
<rect x="1382" y="213" width="1" height="53" fill="#f23645"/>
<rect x="1378" y="219" width="9" height="22" fill="#f23645"/>
<rect x="1394" y="194" width="1" height="48" fill="#089981"/>
<rect x="1390" y="210" width="9" height="32" fill="#089981"/>
<rect x="1406" y="203" width="1" height="21" fill="#089981"/>
<rect x="1402" y="206" width="9" height="5" fill="#089981"/>
<rect x="1418" y="188" width="1" height="43" fill="#089981"/>
<rect x="1414" y="201" width="9" height="4" fill="#089981"/>
<rect x="1430" y="172" width="1" height="36" fill="#f23645"/>
<rect x="1426" y="201" width="9" height="7" fill="#f23645"/>
<rect x="1442" y="169" width="1" height="42" fill="#f23645"/>
<rect x="1438" y="198" width="9" height="8" fill="#f23645"/>
<rect x="1454" y="175" width="1" height="38" fill="#089981"/>
<rect x="1450" y="178" width="9" height="28" fill="#089981"/>
<rect x="1466" y="150" width="1" height="34" fill="#089981"/>
<rect x="1462" y="154" width="9" height="28" fill="#089981"/>
<rect x="1478" y="145" width="1" height="24" fill="#089981"/>
<rect x="1474" y="150" width="9" height="5" fill="#089981"/>
<rect x="1491" y="139" width="1" height="47" fill="#f23645"/>
<rect x="1487" y="147" width="9" height="34" fill="#f23645"/>
<rect x="1503" y="165" width="1" height="47" fill="#f23645"/>
<rect x="1499" y="182" width="9" height="13" fill="#f23645"/>
<rect x="1515" y="169" width="1" height="41" fill="#089981"/>
<rect x="1511" y="183" width="9" height="12" fill="#089981"/>
<rect x="1527" y="179" width="1" height="48" fill="#f23645"/>
<rect x="1523" y="183" width="9" height="15" fill="#f23645"/>
<rect x="1539" y="179" width="1" height="54" fill="#f23645"/>
<rect x="1535" y="197" width="9" height="4" fill="#f23645"/>
<rect x="1551" y="188" width="1" height="21" fill="#089981"/>
<rect x="1547" y="196" width="9" height="5" fill="#089981"/>
<rect x="1563" y="181" width="1" height="32" fill="#f23645"/>
<rect x="1559" y="195" width="9" height="10" fill="#f23645"/>
<rect x="1575" y="201" width="1" height="50" fill="#f23645"/>
<rect x="1571" y="204" width="9" height="28" fill="#f23645"/>
<rect x="1587" y="211" width="1" height="38" fill="#089981"/>
<rect x="1583" y="221" width="9" height="10" fill="#089981"/>
<rect x="1599" y="216" width="1" height="40" fill="#f23645"/>
<rect x="1595" y="221" width="9" height="12" fill="#f23645"/>
<rect x="1611" y="183" width="1" height="64" fill="#089981"/>
<rect x="1607" y="183" width="9" height="49" fill="#089981"/>
<rect x="1623" y="165" width="1" height="43" fill="#089981"/>
<rect x="1619" y="168" width="9" height="17" fill="#089981"/>
<rect x="1636" y="148" width="1" height="36" fill="#f23645"/>
<rect x="1632" y="157" width="9" height="8" fill="#f23645"/>
<rect x="1648" y="154" width="1" height="26" fill="#f23645"/>
<rect x="1644" y="164" width="9" height="5" fill="#f23645"/>
<rect x="1660" y="154" width="1" height="38" fill="#f23645"/>
<rect x="1656" y="167" width="9" height="15" fill="#f23645"/>
<rect x="1672" y="158" width="1" height="30" fill="#089981"/>
<rect x="1668" y="162" width="9" height="20" fill="#089981"/>
</g>
<line x1="10" y1="162.5" x2="1759" y2="162.5" stroke="#089981" stroke-width="1" stroke-dasharray="1 2"/>
<line x1="10" y1="168.5" x2="1759" y2="168.5" stroke="#f23645" stroke-width="1" stroke-dasharray="1 2"/>
</g>
<g clip-path="url(#c2)">
<rect x="10" y="744" width="1749" height="41" fill="rgba(33,150,243,0.1)"/>
<line x1="10" y1="744.5" x2="1759" y2="744.5" stroke="#787b86" stroke-width="1" stroke-dasharray="6 6"/>
<line x1="10" y1="764.5" x2="1759" y2="764.5" stroke="#787b86" stroke-opacity="0.5" stroke-width="1" stroke-dasharray="6 6"/>
<line x1="10" y1="785.5" x2="1759" y2="785.5" stroke="#787b86" stroke-width="1" stroke-dasharray="6 6"/>
<polyline points="5.0,732.6 17.0,785.0 29.0,795.3 41.0,754.9 53.0,741.6 65.0,785.8 77.0,785.8 89.0,761.2 101.0,782.8 113.0,758.2 125.0,790.1 137.0,738.6 150.0,748.7 162.0,744.9 174.0,737.9 186.0,731.1 198.0,766.2 210.0,803.8 222.0,758.7 234.0,748.6 246.0,726.1 258.0,729.3 270.0,796.1 282.0,754.9 295.0,757.0 307.0,724.3 319.0,737.9 331.0,768.7 343.0,746.1 355.0,726.6 367.0,725.1 379.0,794.1 391.0,757.9 403.0,739.9 415.0,729.8 427.0,768.7 440.0,785.2 452.0,802.3 464.0,790.7 476.0,753.4 488.0,790.5 500.0,784.0 512.0,734.3 524.0,776.0 536.0,776.0 548.0,733.3 560.0,735.6 572.0,783.5 584.0,738.1 597.0,748.4 609.0,779.3 621.0,777.2 633.0,753.1 645.0,784.8 657.0,744.6 669.0,774.0 681.0,774.7 693.0,787.3 705.0,746.4 717.0,741.9 729.0,768.5 742.0,731.3 754.0,786.5 766.0,730.8 778.0,733.4 790.0,730.1 802.0,726.6 814.0,723.8 826.0,734.9 838.0,713.8 850.0,778.8 862.0,770.7 874.0,774.8 886.0,748.9 899.0,733.8 911.0,720.1 923.0,789.0 935.0,782.7 947.0,789.8 959.0,755.7 971.0,774.8 983.0,732.1 995.0,736.6 1007.0,779.0 1019.0,734.3 1031.0,772.2 1044.0,743.1 1056.0,793.1 1068.0,751.9 1080.0,795.8 1092.0,804.3 1104.0,811.1 1116.0,763.9 1128.0,742.1 1140.0,740.1 1152.0,784.8 1164.0,748.1 1176.0,787.7 1189.0,801.6 1201.0,740.6 1213.0,796.1 1225.0,743.4 1237.0,741.1 1249.0,790.0 1261.0,785.2 1273.0,736.6 1285.0,728.1 1297.0,737.6 1309.0,784.0 1321.0,801.1 1333.0,756.4 1346.0,728.3 1358.0,735.4 1370.0,726.6 1382.0,783.0 1394.0,743.4 1406.0,750.2 1418.0,743.9 1430.0,777.5 1442.0,755.7 1454.0,735.6 1466.0,729.8 1478.0,734.6 1491.0,791.0 1503.0,795.3 1515.0,755.2 1527.0,786.8 1539.0,784.2 1551.0,758.9 1563.0,782.7 1575.0,799.3 1587.0,756.9 1599.0,786.0 1611.0,733.1 1623.0,735.6 1636.0,738.1 1648.0,771.4 1660.0,788.5 1672.0,742.1" fill="none" stroke="#2962ff" stroke-width="1.15" stroke-linejoin="round" stroke-opacity="1"/>
</g>
<text x="10" y="18.7" font-size="13" fill="#131722" stroke="#131722" stroke-width="0.3" font-weight="normal" text-anchor="start" textLength="500" lengthAdjust="spacingAndGlyphs">busra_kapan tarafından TradingView.com ile Oca 09, 2026 12:59 UTC+2 tarihinde oluşturuldu</text>
<text x="17.9" y="45.8" font-size="12" fill="#131722" stroke="#131722" stroke-width="0.3" font-weight="normal" text-anchor="start" textLength="207.4" lengthAdjust="spacingAndGlyphs">GOLD / TURKISH LIRA GRAM · 4sa · ICE</text>
<text x="233" y="45.8" font-size="12" fill="#131722" stroke="#131722" stroke-width="0.3" font-weight="normal" text-anchor="start" textLength="6.3" lengthAdjust="spacingAndGlyphs">A</text>
<text x="239.9" y="45.8" font-size="12" fill="#089981" stroke="#089981" stroke-width="0.3" font-weight="normal" text-anchor="start" textLength="46.6" lengthAdjust="spacingAndGlyphs">6.180,24</text>
<text x="294" y="45.8" font-size="12" fill="#131722" stroke="#131722" stroke-width="0.3" font-weight="normal" text-anchor="start" textLength="6.7" lengthAdjust="spacingAndGlyphs">Y</text>
<text x="300.7" y="45.8" font-size="12" fill="#089981" stroke="#089981" stroke-width="0.3" font-weight="normal" text-anchor="start" textLength="46.3" lengthAdjust="spacingAndGlyphs">6.205,84</text>
<text x="354.7" y="45.8" font-size="12" fill="#131722" stroke="#131722" stroke-width="0.3" font-weight="normal" text-anchor="start" textLength="6.8" lengthAdjust="spacingAndGlyphs">D</text>
<text x="362.2" y="45.8" font-size="12" fill="#089981" stroke="#089981" stroke-width="0.3" font-weight="normal" text-anchor="start" textLength="45.8" lengthAdjust="spacingAndGlyphs">6.171,35</text>
<text x="416.2" y="45.8" font-size="12" fill="#131722" stroke="#131722" stroke-width="0.3" font-weight="normal" text-anchor="start" textLength="6.1" lengthAdjust="spacingAndGlyphs">K</text>
<text x="423" y="45.8" font-size="12" fill="#089981" stroke="#089981" stroke-width="0.3" font-weight="normal" text-anchor="start" textLength="46" lengthAdjust="spacingAndGlyphs">6.201,84</text>
<text x="476.4" y="45.8" font-size="12" fill="#089981" stroke="#089981" stroke-width="0.3" font-weight="normal" text-anchor="start" textLength="85.1" lengthAdjust="spacingAndGlyphs">+21,45 (+0,35%)</text>
<text x="17.9" y="63.3" font-size="12" fill="#131722" stroke="#131722" stroke-width="0.3" font-weight="normal" text-anchor="start" textLength="128.4" lengthAdjust="spacingAndGlyphs">Ichimoku (9, 26, 52, 26)</text>
<text x="154" y="63.3" font-size="12" fill="#2962ff" stroke="#2962ff" stroke-width="0.3" font-weight="normal" text-anchor="start" textLength="46.2" lengthAdjust="spacingAndGlyphs">6.156,60</text>
<text x="208" y="63.3" font-size="12" fill="#b71c1c" stroke="#b71c1c" stroke-width="0.3" font-weight="normal" text-anchor="start" textLength="46.2" lengthAdjust="spacingAndGlyphs">6.155,30</text>
<text x="261.8" y="63.3" font-size="12" fill="#43a047" stroke="#43a047" stroke-width="0.3" font-weight="normal" text-anchor="start" textLength="46.2" lengthAdjust="spacingAndGlyphs">6.201,84</text>
<text x="315.5" y="63.3" font-size="12" fill="#a5d6a7" stroke="#a5d6a7" stroke-width="0.3" font-weight="normal" text-anchor="start" textLength="46.2" lengthAdjust="spacingAndGlyphs">6.155,95</text>
<text x="369.3" y="63.3" font-size="12" fill="#ef9a9a" stroke="#ef9a9a" stroke-width="0.3" font-weight="normal" text-anchor="start" textLength="46.2" lengthAdjust="spacingAndGlyphs">6.090,96</text>
<text x="18" y="721.2" font-size="12" fill="#131722" stroke="#131722" stroke-width="0.3" font-weight="normal" text-anchor="start" textLength="82.7" lengthAdjust="spacingAndGlyphs">CRSI (3, 2, 100)</text>
<text x="108.5" y="721.2" font-size="12" fill="#2962ff" stroke="#2962ff" stroke-width="0.3" font-weight="normal" text-anchor="start" textLength="29.5" lengthAdjust="spacingAndGlyphs">71,44</text>
<text x="1767.8" y="692.0" font-size="12" fill="#131722" stroke="#131722" stroke-width="0.3" font-weight="normal" text-anchor="start" textLength="46.3" lengthAdjust="spacingAndGlyphs">5.600,00</text>
<text x="1767.8" y="657.0" font-size="12" fill="#131722" stroke="#131722" stroke-width="0.3" font-weight="normal" text-anchor="start" textLength="46.3" lengthAdjust="spacingAndGlyphs">5.640,00</text>
<text x="1767.8" y="622.0" font-size="12" fill="#131722" stroke="#131722" stroke-width="0.3" font-weight="normal" text-anchor="start" textLength="46.3" lengthAdjust="spacingAndGlyphs">5.680,00</text>
<text x="1767.8" y="587.0" font-size="12" fill="#131722" stroke="#131722" stroke-width="0.3" font-weight="normal" text-anchor="start" textLength="46.3" lengthAdjust="spacingAndGlyphs">5.720,00</text>
<text x="1767.8" y="552.0" font-size="12" fill="#131722" stroke="#131722" stroke-width="0.3" font-weight="normal" text-anchor="start" textLength="46.3" lengthAdjust="spacingAndGlyphs">5.760,00</text>
<text x="1767.8" y="517.0" font-size="12" fill="#131722" stroke="#131722" stroke-width="0.3" font-weight="normal" text-anchor="start" textLength="46.3" lengthAdjust="spacingAndGlyphs">5.800,00</text>
<text x="1767.8" y="482.0" font-size="12" fill="#131722" stroke="#131722" stroke-width="0.3" font-weight="normal" text-anchor="start" textLength="46.3" lengthAdjust="spacingAndGlyphs">5.840,00</text>
<text x="1767.8" y="447.0" font-size="12" fill="#131722" stroke="#131722" stroke-width="0.3" font-weight="normal" text-anchor="start" textLength="46.3" lengthAdjust="spacingAndGlyphs">5.880,00</text>
<text x="1767.8" y="412.0" font-size="12" fill="#131722" stroke="#131722" stroke-width="0.3" font-weight="normal" text-anchor="start" textLength="46.3" lengthAdjust="spacingAndGlyphs">5.920,00</text>
<text x="1767.8" y="377.0" font-size="12" fill="#131722" stroke="#131722" stroke-width="0.3" font-weight="normal" text-anchor="start" textLength="46.3" lengthAdjust="spacingAndGlyphs">5.960,00</text>
<text x="1767.8" y="342.0" font-size="12" fill="#131722" stroke="#131722" stroke-width="0.3" font-weight="normal" text-anchor="start" textLength="46.3" lengthAdjust="spacingAndGlyphs">6.000,00</text>
<text x="1767.8" y="307.0" font-size="12" fill="#131722" stroke="#131722" stroke-width="0.3" font-weight="normal" text-anchor="start" textLength="46.3" lengthAdjust="spacingAndGlyphs">6.040,00</text>
<text x="1767.8" y="272.0" font-size="12" fill="#131722" stroke="#131722" stroke-width="0.3" font-weight="normal" text-anchor="start" textLength="46.3" lengthAdjust="spacingAndGlyphs">6.080,00</text>
<text x="1767.8" y="132.0" font-size="12" fill="#131722" stroke="#131722" stroke-width="0.3" font-weight="normal" text-anchor="start" textLength="46.3" lengthAdjust="spacingAndGlyphs">6.240,00</text>
<text x="1767.8" y="61.999999999999986" font-size="12" fill="#131722" stroke="#131722" stroke-width="0.3" font-weight="normal" text-anchor="start" textLength="46.3" lengthAdjust="spacingAndGlyphs">6.320,00</text>
<text x="1767.8" y="736.3" font-size="12" fill="#131722" stroke="#131722" stroke-width="0.3" font-weight="normal" text-anchor="start" textLength="29.2" lengthAdjust="spacingAndGlyphs">80,00</text>
<text x="1767.8" y="778.3" font-size="12" fill="#131722" stroke="#131722" stroke-width="0.3" font-weight="normal" text-anchor="start" textLength="29.2" lengthAdjust="spacingAndGlyphs">40,00</text>
<text x="1767.8" y="819.9" font-size="12" fill="#131722" stroke="#131722" stroke-width="0.3" font-weight="normal" text-anchor="start" textLength="22.5" lengthAdjust="spacingAndGlyphs">0,00</text>
<rect x="1760" y="82" width="60" height="16.599999999999994" rx="2" ry="2" fill="#f23645"/>
<text x="1767.8" y="93.7" font-size="12" fill="#fff" font-weight="bold" text-anchor="start" textLength="46.4" lengthAdjust="spacingAndGlyphs">6.283,24</text>
<rect x="1760" y="137" width="60" height="17" rx="2" ry="2" fill="#43a047"/>
<text x="1767.8" y="148.7" font-size="12" fill="#fff" font-weight="bold" text-anchor="start" textLength="46.4" lengthAdjust="spacingAndGlyphs">6.201,84</text>
<rect x="1760" y="153.8" width="60" height="31.0" rx="2" ry="2" fill="#089981"/>
<text x="1767.8" y="165.5" font-size="12" fill="#fff" font-weight="bold" text-anchor="start" textLength="46.4" lengthAdjust="spacingAndGlyphs">6.201,84</text>
<text x="1767.8" y="179.4" font-size="12" fill="rgba(255,255,255,0.7)" font-weight="normal" text-anchor="start" textLength="46.4" lengthAdjust="spacingAndGlyphs">03:00:49</text>
<rect x="1760" y="193" width="60" height="16.5" rx="2" ry="2" fill="#2962ff"/>
<text x="1767.8" y="204.6" font-size="12" fill="#fff" font-weight="bold" text-anchor="start" textLength="46.4" lengthAdjust="spacingAndGlyphs">6.156,60</text>
<rect x="1760" y="210" width="60" height="16.599999999999994" rx="2" ry="2" fill="#a5d6a7"/>
<text x="1767.8" y="221.6" font-size="12" fill="#131722" stroke="#131722" stroke-width="0.3" font-weight="normal" text-anchor="start" textLength="46.4" lengthAdjust="spacingAndGlyphs">6.155,95</text>
<rect x="1760" y="227" width="60" height="16.69999999999999" rx="2" ry="2" fill="#b71c1c"/>
<text x="1767.8" y="238.6" font-size="12" fill="#fff" font-weight="bold" text-anchor="start" textLength="46.4" lengthAdjust="spacingAndGlyphs">6.155,30</text>
<rect x="1760" y="251.2" width="60" height="16.600000000000023" rx="2" ry="2" fill="#ef9a9a"/>
<text x="1767.8" y="262.6" font-size="12" fill="#131722" stroke="#131722" stroke-width="0.3" font-weight="normal" text-anchor="start" textLength="46.4" lengthAdjust="spacingAndGlyphs">6.090,96</text>
<rect x="1760" y="734.4" width="43" height="16.300000000000068" rx="2" ry="2" fill="#2962ff"/>
<text x="1767.8" y="745.9" font-size="12" fill="#fff" font-weight="bold" text-anchor="start" textLength="29.5" lengthAdjust="spacingAndGlyphs">71,44</text>
<text x="41.4" y="838.8" font-size="12" fill="#131722" stroke="#131722" stroke-width="0.3" font-weight="normal" text-anchor="middle">8</text>
<text x="113.4" y="838.8" font-size="12" fill="#131722" stroke="#131722" stroke-width="0.3" font-weight="normal" text-anchor="middle">9</text>
<text x="186.4" y="838.8" font-size="12" fill="#131722" stroke="#131722" stroke-width="0.3" font-weight="normal" text-anchor="middle">10</text>
<text x="258.4" y="838.8" font-size="12" fill="#131722" stroke="#131722" stroke-width="0.3" font-weight="normal" text-anchor="middle">11</text>
<text x="331.4" y="838.8" font-size="12" fill="#131722" stroke="#131722" stroke-width="0.3" font-weight="normal" text-anchor="middle">12</text>
<text x="403.4" y="838.8" font-size="12" fill="#131722" stroke="#131722" stroke-width="0.3" font-weight="normal" text-anchor="middle">15</text>
<text x="476.4" y="838.8" font-size="12" fill="#131722" stroke="#131722" stroke-width="0.3" font-weight="normal" text-anchor="middle">16</text>
<text x="548.4" y="838.8" font-size="12" fill="#131722" stroke="#131722" stroke-width="0.3" font-weight="normal" text-anchor="middle">17</text>
<text x="621.4" y="838.8" font-size="12" fill="#131722" stroke="#131722" stroke-width="0.3" font-weight="normal" text-anchor="middle">18</text>
<text x="693.4" y="838.8" font-size="12" fill="#131722" stroke="#131722" stroke-width="0.3" font-weight="normal" text-anchor="middle">19</text>
<text x="766.4" y="838.8" font-size="12" fill="#131722" stroke="#131722" stroke-width="0.3" font-weight="normal" text-anchor="middle">22</text>
<text x="838.4" y="838.8" font-size="12" fill="#131722" stroke="#131722" stroke-width="0.3" font-weight="normal" text-anchor="middle">23</text>
<text x="911.4" y="838.8" font-size="12" fill="#131722" stroke="#131722" stroke-width="0.3" font-weight="normal" text-anchor="middle">24</text>
<text x="983.4" y="838.8" font-size="12" fill="#131722" stroke="#131722" stroke-width="0.3" font-weight="normal" text-anchor="middle">26</text>
<text x="1056.4" y="838.8" font-size="12" fill="#131722" stroke="#131722" stroke-width="0.3" font-weight="normal" text-anchor="middle">29</text>
<text x="1128.4" y="838.8" font-size="12" fill="#131722" stroke="#131722" stroke-width="0.3" font-weight="normal" text-anchor="middle">30</text>
<text x="1201.4" y="838.8" font-size="12" fill="#131722" stroke="#131722" stroke-width="0.3" font-weight="normal" text-anchor="middle">31</text>
<text x="1273.4" y="838.8" font-size="12" fill="#131722" font-weight="bold" text-anchor="middle">2026</text>
<text x="1346.4" y="838.8" font-size="12" fill="#131722" stroke="#131722" stroke-width="0.3" font-weight="normal" text-anchor="middle">5</text>
<text x="1418.4" y="838.8" font-size="12" fill="#131722" stroke="#131722" stroke-width="0.3" font-weight="normal" text-anchor="middle">6</text>
<text x="1491.4" y="838.8" font-size="12" fill="#131722" stroke="#131722" stroke-width="0.3" font-weight="normal" text-anchor="middle">7</text>
<text x="1563.4" y="838.8" font-size="12" fill="#131722" stroke="#131722" stroke-width="0.3" font-weight="normal" text-anchor="middle">8</text>
<text x="1636.4" y="838.8" font-size="12" fill="#131722" stroke="#131722" stroke-width="0.3" font-weight="normal" text-anchor="middle">9</text>
<text x="1708.4" y="838.8" font-size="12" fill="#131722" stroke="#131722" stroke-width="0.3" font-weight="normal" text-anchor="middle">12</text>
<g transform="translate(1672.5,688.4)" fill="none" stroke="#9c27b0" stroke-width="1.4"><path d="M 3.4,-9.3 A 9.9,9.9 0 1 0 9.4,-3.1" stroke-linecap="round"/><path d="M 2.6,-5.2 L -4.2,0 L -0.6,0.4 L -3.4,5.3 L 4.05,-0.1 L 0.8,-0.5 Z" fill="#9c27b0" stroke="none"/></g>
<circle cx="1679.4" cy="681.6" r="2.6" fill="#f23645"/>
<g fill="#0f0f0f"><path d="M12,871.1 H23.8 V885.7 H18 V876.8 H12 Z"/><circle cx="28.7" cy="873.7" r="2.6"/><path d="M34,871.1 H41.7 L36.5,885.7 H28.9 Z"/></g>
<text x="49" y="885.7" font-size="20.4" font-weight="bold" fill="#0f0f0f" stroke="#0f0f0f" stroke-width="0.35" textLength="120.5" lengthAdjust="spacingAndGlyphs">TradingView</text>
</svg>
</body></html>
